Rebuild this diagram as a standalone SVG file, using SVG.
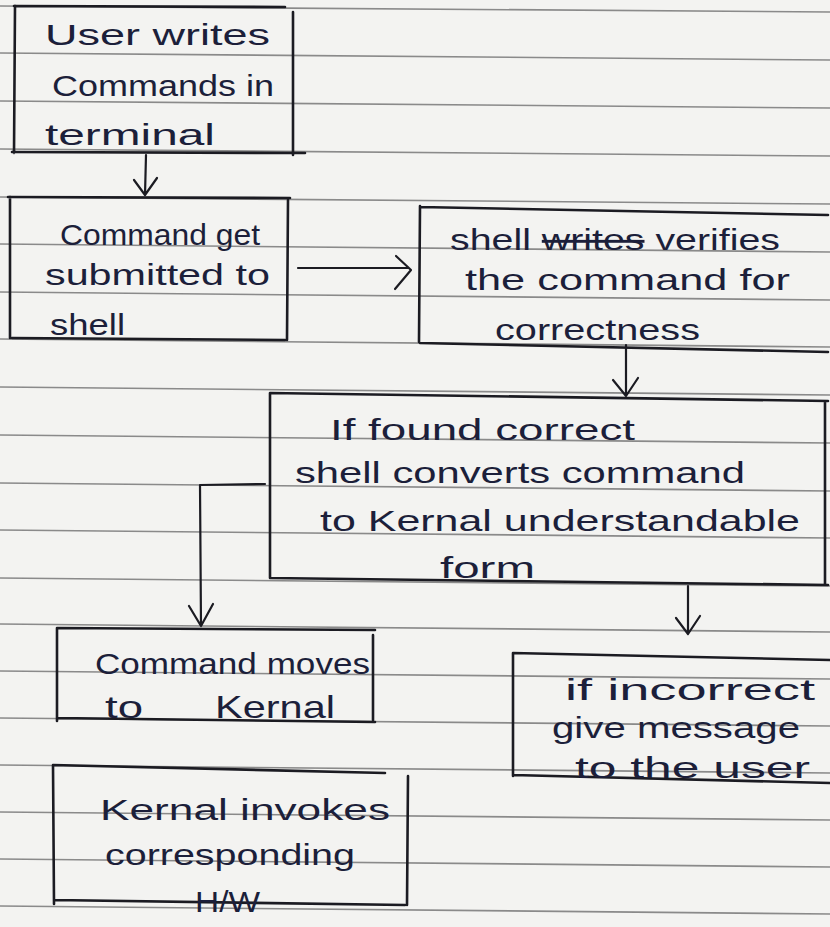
<svg xmlns="http://www.w3.org/2000/svg" width="830" height="927" viewBox="0 0 830 927">
<defs>
<style>
.rule{stroke:#8a8a8a;stroke-width:1.6;fill:none}
.box{stroke:#1b1b22;stroke-width:2.6;fill:none;stroke-linecap:round;stroke-linejoin:round}
.conn{stroke:#1b1b22;stroke-width:2.2;fill:none;stroke-linecap:round;stroke-linejoin:round}
.t{font-family:"Liberation Sans","DejaVu Sans",sans-serif;font-size:29px;fill:#1c1f3a}
</style>
</defs>
<rect width="830" height="927" fill="#f3f3f1"/>
<g id="ruling">
<path class="rule" d="M0 6 L830 12 M0 53 L830 60 M0 101 L830 108 M0 149 L830 156 M0 197 L830 204 M0 244 L830 252 M0 292 L830 300 M0 339 L830 347 M0 387 L830 395 M0 435 L830 443 M0 483 L830 491 M0 530 L830 538 M0 578 L830 586 M0 624 L830 632 M0 671 L830 679 M0 718 L830 726 M0 765 L830 773 M0 812 L830 820 M0 859 L830 867 M0 906 L830 914"/>
</g>
<g id="n1">
<path class="box" d="M14 6 L285 7 M15 6 L14 153 M293 12 L293 155 M12 152 L305 153"/>
<text class="t" x="45" y="45" textLength="225" lengthAdjust="spacingAndGlyphs">User writes</text>
<text class="t" x="52" y="96" textLength="222" lengthAdjust="spacingAndGlyphs">Commands in</text>
<text class="t" x="45" y="145" textLength="170" lengthAdjust="spacingAndGlyphs">terminal</text>
</g>
<g id="n2">
<path class="box" d="M8 197 L290 198 M10 197 L10 338 M288 200 L287 340 M12 338 L285 340"/>
<text class="t" x="60" y="245" textLength="200" lengthAdjust="spacingAndGlyphs">Command get</text>
<text class="t" x="45" y="285" textLength="225" lengthAdjust="spacingAndGlyphs">submitted to</text>
<text class="t" x="50" y="335" textLength="75" lengthAdjust="spacingAndGlyphs">shell</text>
</g>
<g id="n3">
<path class="box" d="M420 207 L828 215 M420 206 L419 342 M420 343 L828 352"/>
<text class="t" x="450" y="250" textLength="330" lengthAdjust="spacingAndGlyphs">shell <tspan text-decoration="line-through">writes</tspan> verifies</text>
<text class="t" x="465" y="290" textLength="325" lengthAdjust="spacingAndGlyphs">the command for</text>
<text class="t" x="495" y="340" textLength="205" lengthAdjust="spacingAndGlyphs">correctness</text>
</g>
<g id="n4">
<path class="box" d="M270 393 L828 401 M270 393 L270 578 M270 578 L828 585 M825 401 L825 585"/>
<text class="t" x="330" y="440" textLength="305" lengthAdjust="spacingAndGlyphs">If found correct</text>
<text class="t" x="295" y="483" textLength="450" lengthAdjust="spacingAndGlyphs">shell converts command</text>
<text class="t" x="320" y="531" textLength="480" lengthAdjust="spacingAndGlyphs">to Kernal understandable</text>
<text class="t" x="440" y="578" textLength="95" lengthAdjust="spacingAndGlyphs">form</text>
</g>
<g id="n5">
<path class="box" d="M57 628 L375 630 M57 628 L57 721 M373 635 L373 720 M57 718 L375 722"/>
<text class="t" x="95" y="674" textLength="275" lengthAdjust="spacingAndGlyphs">Command moves</text>
<text class="t" y="718" style="font-size:32px"><tspan x="105" textLength="38" lengthAdjust="spacingAndGlyphs">to</tspan><tspan x="215" textLength="120" lengthAdjust="spacingAndGlyphs">Kernal</tspan></text>
</g>
<g id="n6">
<path class="box" d="M513 653 L830 660 M513 653 L513 776 M513 775 L830 783"/>
<text class="t" x="565" y="700" textLength="250" lengthAdjust="spacingAndGlyphs">if incorrect</text>
<text class="t" x="552" y="738" textLength="248" lengthAdjust="spacingAndGlyphs">give message</text>
<text class="t" x="575" y="778" textLength="235" lengthAdjust="spacingAndGlyphs">to the user</text>
</g>
<g id="n7">
<path class="box" d="M53 765 L385 773 M53 765 L54 904 M408 776 L407 905 M54 900 L405 905"/>
<text class="t" x="100" y="820" textLength="290" lengthAdjust="spacingAndGlyphs">Kernal invokes</text>
<text class="t" x="105" y="865" textLength="250" lengthAdjust="spacingAndGlyphs">corresponding</text>
<text class="t" x="195" y="912" textLength="65" lengthAdjust="spacingAndGlyphs">H/W</text>
</g>
<g id="connectors">
<path class="conn" d="M146 155 L145 195 M134 180 L145 195 L157 178"/>
<path class="conn" d="M298 268 L408 268 M396 256 L411 270 L395 289"/>
<path class="conn" d="M626 345 L626 395 M613 380 L626 396 L638 378"/>
<path class="conn" d="M265 484 L200 485 L201 626 M189 606 L201 626 L213 604"/>
<path class="conn" d="M688 586 L688 633 M676 618 L688 634 L700 616"/>
</g>
</svg>
